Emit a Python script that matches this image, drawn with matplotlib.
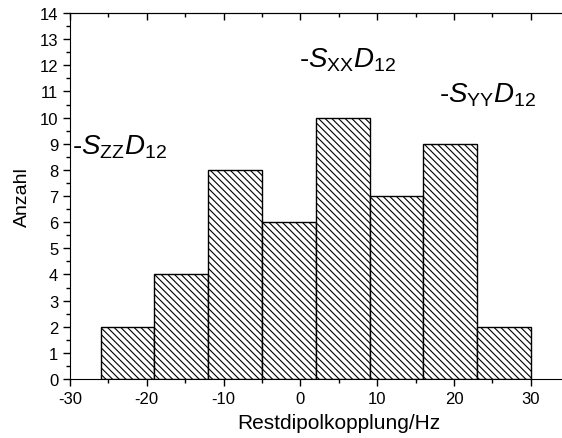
import numpy as np
import matplotlib.pyplot as plt
from matplotlib.ticker import FixedLocator, MultipleLocator

plt.rcParams['font.family'] = 'Liberation Sans'
plt.rcParams['mathtext.fontset'] = 'custom'
plt.rcParams['mathtext.rm'] = 'Liberation Sans'
plt.rcParams['mathtext.it'] = 'Liberation Sans:italic'
plt.rcParams['axes.unicode_minus'] = False
plt.rcParams['hatch.linewidth'] = 0.8

# histogram data
bin_edges = [-26, -19, -12, -5, 2, 9, 16, 23, 30]
counts = [2, 4, 8, 6, 10, 7, 9, 2]

labels = [r'-$S_{\rm ZZ}D_{\rm 12}$', r'-$S_{\rm XX}D_{\rm 12}$', r'-$S_{\rm YY}D_{\rm 12}$']
label_x = [-29.7, -0.2, 18.0]
label_y = [8.9, 12.25, 10.9]
xticks = [-30, -20, -10, 0, 10, 20, 30]

fig = plt.figure(figsize=(5.62, 4.39), dpi=100)
# axes run past the right edge of the figure (cropped like the original)
ax = fig.add_axes([70 / 562, 59 / 439, 537.6 / 562, 366 / 439])

edges = np.array(bin_edges)
ax.bar(edges[:-1], counts, width=np.diff(edges), align='edge',
       facecolor='white', edgecolor='black', linewidth=1.0, hatch='\\\\\\\\\\')

for txt, x, y in zip(labels, label_x, label_y):
    ax.text(x, y, txt, fontsize=20, ha='left', va='center')

ax.set_xlim(-30, 40)
ax.set_ylim(0, 14)
ax.xaxis.set_major_locator(FixedLocator(xticks))
ax.xaxis.set_minor_locator(MultipleLocator(5))
ax.yaxis.set_major_locator(MultipleLocator(1))
ax.yaxis.set_minor_locator(MultipleLocator(0.5))

ax.spines['right'].set_visible(False)
ax.tick_params(axis='both', which='major', direction='out', length=5, width=1, labelsize=12)
ax.tick_params(axis='both', which='minor', direction='out', length=3, width=1)

# inward ticks along the top spine
sec = ax.secondary_xaxis('top')
sec.xaxis.set_major_locator(FixedLocator(xticks))
sec.xaxis.set_minor_locator(MultipleLocator(5))
sec.tick_params(which='major', direction='in', length=5, width=1, labeltop=False)
sec.tick_params(which='minor', direction='in', length=3, width=1)

ax.set_xlabel('Restdipolkopplung/Hz', fontsize=15, labelpad=5)
ax.set_ylabel('Anzahl', fontsize=14, labelpad=6)

fig.savefig('out.png', dpi=100)
